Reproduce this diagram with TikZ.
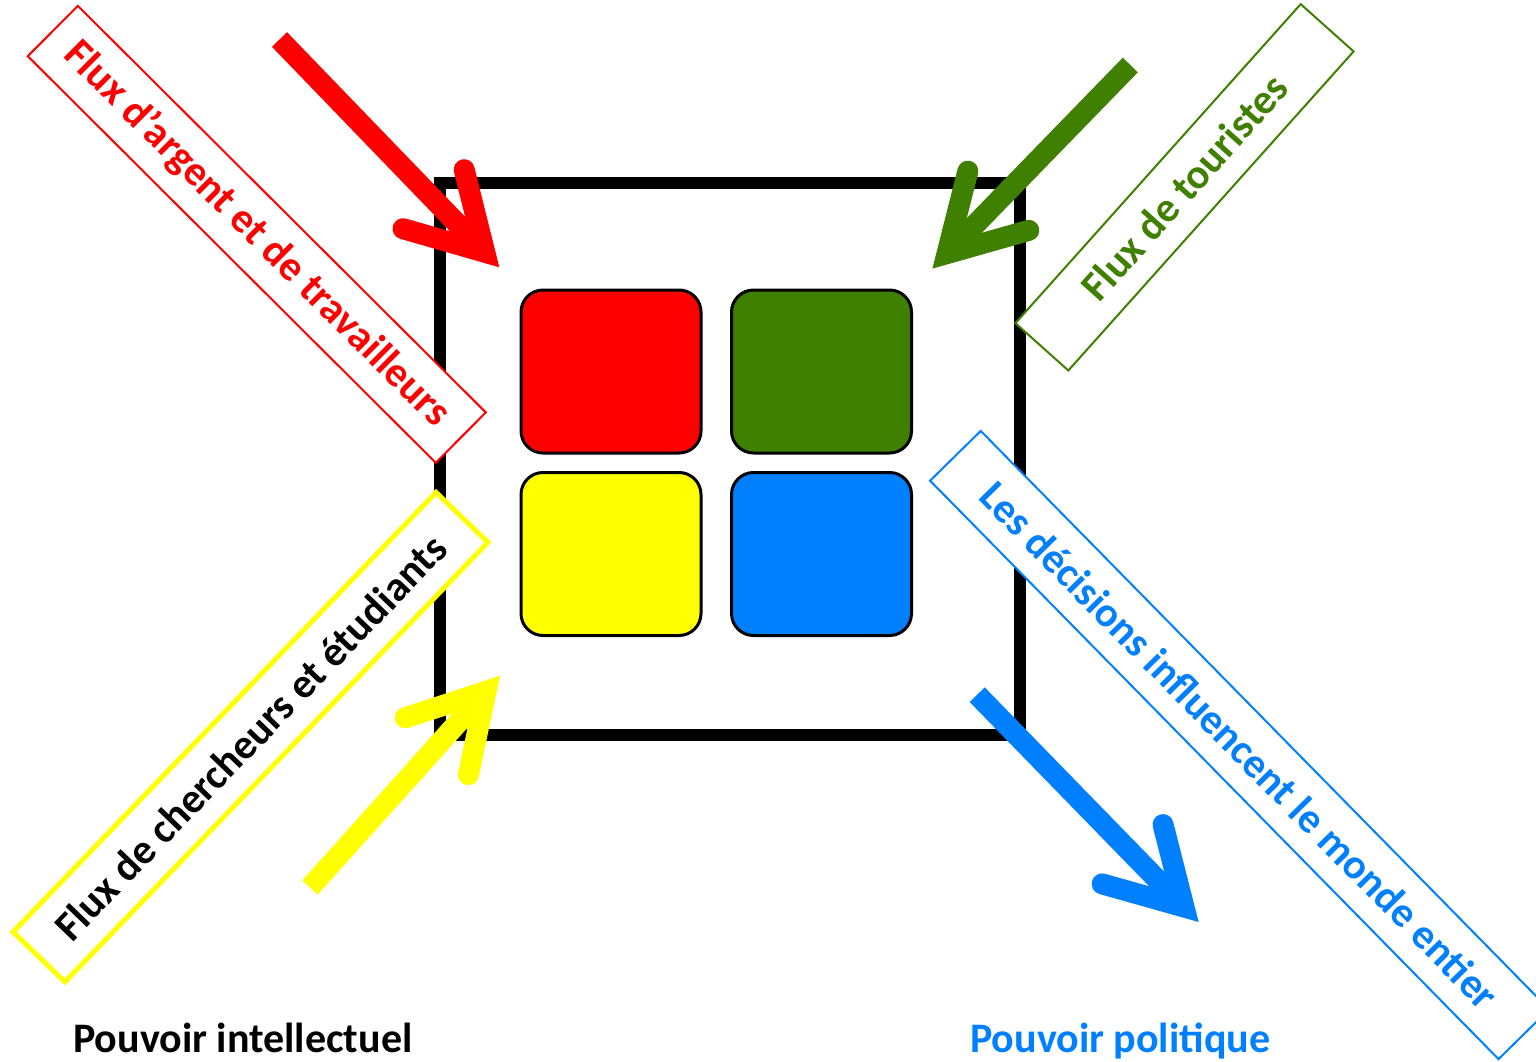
\documentclass[tikz,border=0pt]{standalone}
\usepackage{fontspec}
\setmainfont{Carlito}
\usetikzlibrary{calc}
\definecolor{cRed}{HTML}{FF0000}
\definecolor{cGreen}{HTML}{408000}
\definecolor{cYellow}{HTML}{FFFF00}
\definecolor{cBlue}{HTML}{0080FF}
\tikzset{
  frame/.style={draw=black, line width=12pt, inner sep=0pt, minimum width=579.5pt, minimum height=552.5pt},
  tile/.style={draw=black, line width=3pt, rounded corners=22pt, inner sep=0pt, minimum width=180pt, minimum height=163pt},
  labelbox/.style={fill=white, inner sep=0pt, minimum height=71pt, font=\fontsize{42}{50}\selectfont\bfseries},
  fatline/.style={line width=21pt},
  bottomlabel/.style={anchor=base west, inner sep=0pt, font=\fontsize{42}{50}\selectfont\bfseries}
}
\newcommand\fatarrow[3]{%
  \coordinate (#3v) at ($(#3)!22pt!(#2)$);
  \draw[fatline,#1] (#2) -- (#3v);
  \draw[fatline,#1,line cap=round,line join=miter]
     ($(#3v)!85pt!30:(#2)$) -- (#3v) -- ($(#3v)!85pt!-30:(#2)$);
}
\begin{document}
\begin{tikzpicture}[x=1pt,y=-1pt]
\useasboundingbox (0,0) rectangle (1536,1061);
\fill[white] (0,0) rectangle (1536,1061);
% central frame
\node[frame] (frame) at (729.75,458.75) {};
% four tiles
\node[tile, fill=cRed]    (tred)    at (611,371.5) {};
\node[tile, fill=cGreen]  (tgreen)  at (821.5,371.5) {};
\node[tile, fill=cYellow] (tyellow) at (611,554) {};
\node[tile, fill=cBlue]   (tblue)   at (821.5,554) {};
% label boxes
\node[labelbox, draw=cRed, line width=2pt, text=cRed, rotate=-44.9, minimum width=576pt]
  (lred) at (256.8,234.3) {Flux d’argent et de travailleurs};
\node[labelbox, draw=cGreen, line width=2pt, text=cGreen, rotate=48.2, minimum width=428pt]
  (lgreen) at (1184.5,187.3) {Flux de touristes};
\node[labelbox, draw=cYellow, line width=5pt, text=black, rotate=46.1, minimum width=610pt, minimum height=72pt]
  (lyellow) at (250.5,737.1) {Flux de chercheurs et étudiants};
\node[labelbox, draw=cBlue, line width=2pt, text=cBlue, rotate=-45.5, minimum width=811pt]
  (lblue) at (1239.6,745.0) {Les décisions influencent le monde entier};
% arrows
\coordinate (rs) at (279.5,39.5);   \coordinate (rt) at (500,268);
\coordinate (gs) at (1130.3,65);    \coordinate (gt) at (931.7,269.3);
\coordinate (ys) at (310,887.5);    \coordinate (yt) at (500.7,675);
\coordinate (bs) at (977.2,694.7);  \coordinate (bt) at (1199.3,922.7);
\fatarrow{cRed}{rs}{rt}
\fatarrow{cGreen}{gs}{gt}
\fatarrow{cYellow}{ys}{yt}
\fatarrow{cBlue}{bs}{bt}
% bottom labels
\node[bottomlabel, text=black] (pint) at (73,1052) {Pouvoir intellectuel};
\node[bottomlabel, text=cBlue] (ppol) at (970,1052) {Pouvoir politique};
\end{tikzpicture}
\end{document}
